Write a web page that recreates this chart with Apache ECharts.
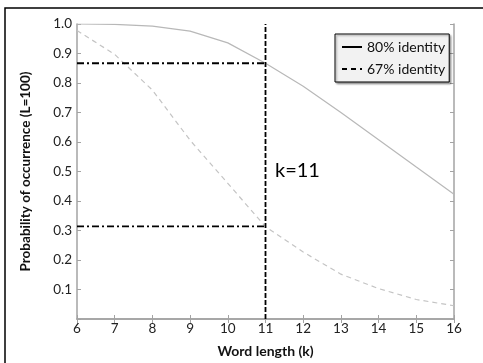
<!DOCTYPE html>
<html>
<head>
<meta charset="utf-8">
<script src="https://cdn.jsdelivr.net/npm/echarts@6/dist/echarts.min.js"></script>
<style>
  html, body { margin: 0; padding: 0; background: #fff; }
  #chart { width: 483px; height: 363px; }
</style>
</head>
<body>
<div id="chart"></div>
<script>
// word length k on the x axis
const wordLengths = [6, 7, 8, 9, 10, 11, 12, 13, 14, 15, 16]
// probability of occurrence
const identity80 = [1.0, 0.999, 0.993, 0.976, 0.936, 0.867, 0.789, 0.700, 0.608, 0.515, 0.423]
const identity67 = [0.978, 0.897, 0.776, 0.606, 0.460, 0.313, 0.227, 0.152, 0.103, 0.066, 0.045]
const seriesNames = ['80% identity', '67% identity']
// chosen word length and the two probabilities it gives
const chosenK = 11
const chosenLevels = [0.867, 0.314]

const FONT = 'Lato'
const spine = '#a3a3a3'

const toPairs = (ys) => wordLengths.map((k, i) => [k, ys[i]])

const chart = echarts.init(document.getElementById('chart'), null, { renderer: 'canvas' })

const tickCommon = {
  axisLine: { show: true, lineStyle: { color: spine, width: 1.5 } },
  axisTick: { show: true, inside: true, length: 4, lineStyle: { color: spine, width: 1 } },
  splitLine: { show: false }
}

const option = {
  animation: false,
  textStyle: { fontFamily: FONT },
  grid: { left: 77, top: 24, right: 29, bottom: 37 },
  legend: {
    orient: 'vertical',
    left: 335,
    top: 34,
    padding: [6, 4, 6, 6],
    itemGap: 8,
    itemWidth: 20,
    itemHeight: 12,
    backgroundColor: '#f2f2f2',
    borderColor: '#000',
    borderWidth: 1,
    borderRadius: 0,
    shadowColor: 'rgba(0,0,0,0.35)',
    shadowBlur: 2,
    shadowOffsetX: 1.5,
    shadowOffsetY: 1.5,
    data: seriesNames,
    itemStyle: { opacity: 0 },
    lineStyle: { color: '#000', width: 2 },
    textStyle: { fontFamily: FONT, fontSize: 14, color: '#111', padding: [0, 0, 0, 0] }
  },
  xAxis: [
    Object.assign({
      type: 'value', min: 6, max: 16, interval: 1,
      name: 'Word length (k)', nameLocation: 'middle', nameGap: 25,
      nameTextStyle: { fontFamily: FONT, fontWeight: 'bold', fontSize: 14, color: '#111' },
      axisLabel: { fontFamily: FONT, fontSize: 13.5, color: '#222', margin: 3 }
    }, tickCommon),
    Object.assign({
      type: 'value', min: 6, max: 16, interval: 1, position: 'top',
      axisLabel: { show: false }
    }, tickCommon)
  ],
  yAxis: [
    Object.assign({
      type: 'value', min: 0, max: 1, interval: 0.1,
      name: 'Probability of occurrence (L=100)', nameLocation: 'middle', nameGap: 44,
      nameTextStyle: { fontFamily: FONT, fontWeight: 'bold', fontSize: 13.5, color: '#111' },
      axisLabel: {
        fontFamily: FONT, fontSize: 13.5, color: '#222', margin: 5,
        formatter: (v) => (v === 0 ? '' : v.toFixed(1))
      }
    }, tickCommon),
    Object.assign({
      type: 'value', min: 0, max: 1, interval: 0.1, position: 'right',
      axisLabel: { show: false }
    }, tickCommon)
  ],
  series: [
    {
      name: seriesNames[0],
      type: 'line',
      symbol: 'none',
      data: toPairs(identity80),
      lineStyle: { color: '#b8b8b8', width: 1.2, type: 'solid' },
      itemStyle: { color: '#b8b8b8' },
      z: 2
    },
    {
      name: seriesNames[1],
      type: 'line',
      symbol: 'none',
      data: toPairs(identity67),
      lineStyle: { color: '#c4c4c4', width: 1.2, type: [5, 4] },
      itemStyle: { color: '#c4c4c4' },
      z: 2
    },
    {
      name: 'k line',
      type: 'line',
      symbol: 'none',
      silent: true,
      data: [[chosenK, 0], [chosenK, 1]],
      lineStyle: { color: '#000', width: 1.8, type: [5, 2] },
      z: 3
    },
    ...chosenLevels.map((lv, i) => ({
      name: 'level ' + i,
      type: 'line',
      symbol: 'none',
      silent: true,
      data: [[6, lv], [chosenK, lv]],
      lineStyle: { color: '#000', width: 1.8, type: [7, 3, 2, 3] },
      z: 3
    }))
  ],
  graphic: [
    {
      type: 'rect',
      shape: { x: 5, y: 8, width: 520, height: 420 },
      style: { fill: 'none', stroke: '#000', lineWidth: 1.5 },
      silent: true
    },
    {
      type: 'text',
      left: 275,
      top: 161,
      style: { text: 'k=' + chosenK, fontFamily: FONT, fontSize: 20, fill: '#000' },
      silent: true
    }
  ]
}

chart.setOption(option)
</script>
</body>
</html>
